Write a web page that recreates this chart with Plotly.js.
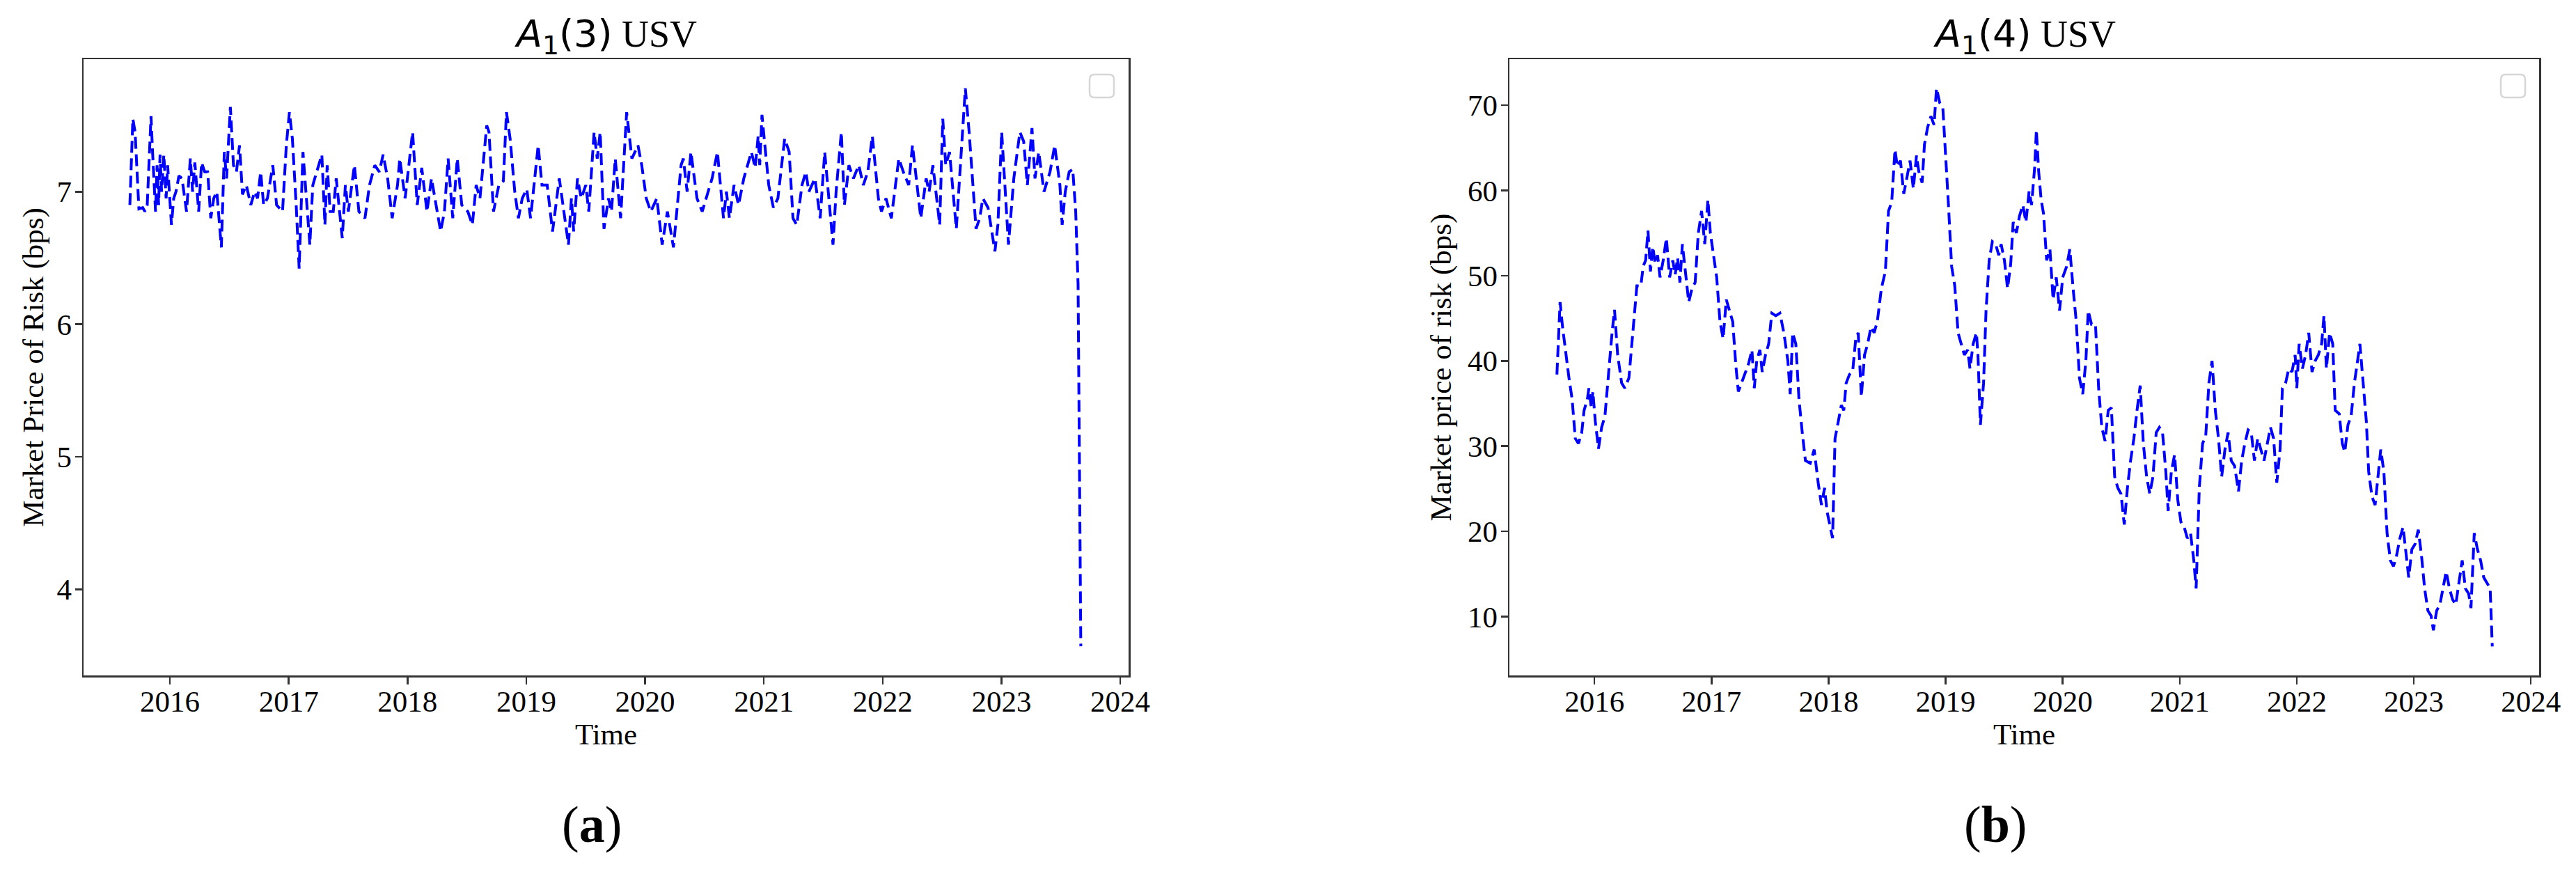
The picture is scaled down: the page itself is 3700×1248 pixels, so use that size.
<!DOCTYPE html>
<html><head><meta charset="utf-8">
<script src="https://cdn.plot.ly/plotly-3.0.1.min.js"></script>
<style>html,body{margin:0;padding:0;background:#fff}#chart{width:3700px;height:1248px}</style>
</head><body><div id="chart"></div>
<script>
// ---- data (decimal years, bps) ----
const yearTicks = [2016, 2017, 2018, 2019, 2020, 2021, 2022, 2023, 2024];
const yearLabels = ['2016', '2017', '2018', '2019', '2020', '2021', '2022', '2023', '2024'];
const usv3Ticks = [4, 5, 6, 7];
const usv4Ticks = [10, 20, 30, 40, 50, 60, 70];

const usv3Time = [2015.663,2015.688,2015.707,2015.739,2015.771,2015.790,2015.809,2015.841,2015.854,2015.879,2015.892,2015.905,2015.917,2015.930,2015.949,2015.968,2015.981,2016.013,2016.032,2016.051,2016.076,2016.102,2016.140,2016.172,2016.191,2016.210,2016.242,2016.267,2016.293,2016.318,2016.344,2016.369,2016.395,2016.433,2016.458,2016.477,2016.509,2016.535,2016.560,2016.586,2016.611,2016.643,2016.681,2016.713,2016.738,2016.764,2016.789,2016.821,2016.866,2016.898,2016.948,2016.980,2017.006,2017.031,2017.063,2017.088,2017.120,2017.146,2017.178,2017.203,2017.235,2017.279,2017.305,2017.324,2017.349,2017.375,2017.400,2017.451,2017.477,2017.502,2017.553,2017.591,2017.642,2017.680,2017.725,2017.763,2017.795,2017.833,2017.871,2017.916,2017.935,2017.980,2018.043,2018.082,2018.120,2018.164,2018.202,2018.279,2018.311,2018.342,2018.381,2018.419,2018.457,2018.508,2018.546,2018.578,2018.610,2018.667,2018.686,2018.724,2018.769,2018.807,2018.833,2018.864,2018.903,2018.934,2018.966,2019.004,2019.036,2019.068,2019.100,2019.132,2019.176,2019.221,2019.278,2019.355,2019.380,2019.399,2019.431,2019.463,2019.501,2019.526,2019.571,2019.597,2019.622,2019.654,2019.692,2019.717,2019.749,2019.794,2019.845,2019.889,2019.940,2019.972,2020.010,2020.048,2020.099,2020.144,2020.188,2020.239,2020.303,2020.322,2020.354,2020.386,2020.437,2020.481,2020.513,2020.564,2020.609,2020.660,2020.685,2020.710,2020.749,2020.787,2020.831,2020.895,2020.927,2020.952,2020.965,2020.984,2021.003,2021.041,2021.080,2021.118,2021.175,2021.213,2021.245,2021.277,2021.321,2021.353,2021.379,2021.430,2021.474,2021.512,2021.582,2021.608,2021.652,2021.678,2021.716,2021.754,2021.799,2021.837,2021.875,2021.913,2021.964,2021.990,2022.028,2022.073,2022.136,2022.174,2022.219,2022.251,2022.283,2022.321,2022.366,2022.391,2022.423,2022.480,2022.506,2022.531,2022.563,2022.620,2022.658,2022.696,2022.728,2022.786,2022.817,2022.843,2022.887,2022.945,2022.970,2023.002,2023.059,2023.104,2023.155,2023.187,2023.218,2023.257,2023.282,2023.314,2023.358,2023.409,2023.448,2023.492,2023.511,2023.537,2023.570,2023.600,2023.625,2023.645,2023.668];
const usv3Value = [6.90,7.55,7.45,6.87,6.88,6.85,6.90,7.57,7.30,6.85,7.20,6.90,7.28,7.00,7.28,6.95,7.20,6.75,6.95,7.00,7.12,7.10,6.85,7.25,7.00,7.22,6.85,7.22,7.15,7.15,6.80,6.95,7.00,6.58,7.30,7.10,7.64,7.20,7.15,7.35,6.98,7.05,6.90,7.00,6.95,7.15,6.90,6.95,7.20,6.90,6.85,7.35,7.60,7.40,6.90,6.42,7.30,7.00,6.60,7.05,7.15,7.28,6.75,7.20,6.85,6.85,7.10,6.65,7.05,6.85,7.20,6.85,6.80,7.05,7.20,7.15,7.28,7.10,6.80,7.05,7.25,6.95,7.45,6.90,7.18,6.85,7.10,6.70,6.85,7.25,6.80,7.25,6.90,6.85,6.75,7.05,6.95,7.50,7.45,6.85,7.05,7.08,7.60,7.40,7.00,6.80,6.95,7.02,6.80,7.10,7.35,7.05,7.05,6.70,7.10,6.60,6.95,6.70,7.10,6.95,7.05,6.85,7.45,7.25,7.45,6.72,6.95,6.85,7.25,6.80,7.60,7.25,7.35,7.20,6.95,6.85,6.95,6.60,6.85,6.58,7.20,7.25,7.00,7.30,6.95,6.85,6.95,7.10,7.30,6.80,7.00,6.80,7.05,6.90,7.10,7.30,7.18,7.42,7.20,7.58,7.40,7.05,6.88,6.95,7.40,7.30,6.80,6.75,7.05,7.15,7.00,7.10,6.80,7.30,6.60,7.00,7.45,6.90,7.20,7.10,7.20,7.05,7.15,7.42,6.95,6.85,6.95,6.80,7.25,7.15,7.05,7.35,7.10,6.80,7.10,7.00,7.20,6.75,7.55,7.20,7.30,6.72,7.25,7.78,7.45,6.72,6.80,6.95,6.88,6.55,6.75,7.45,6.60,7.10,7.45,7.38,7.05,7.48,7.10,7.30,7.00,7.15,7.35,7.05,6.75,7.00,7.15,7.17,6.85,6.30,3.57];

const usv4Time = [2015.679,2015.706,2015.727,2015.747,2015.782,2015.809,2015.836,2015.863,2015.891,2015.911,2015.939,2015.952,2015.973,2015.986,2016.007,2016.034,2016.061,2016.089,2016.116,2016.150,2016.171,2016.198,2016.232,2016.259,2016.294,2016.328,2016.362,2016.396,2016.416,2016.437,2016.457,2016.478,2016.498,2016.519,2016.539,2016.560,2016.587,2016.614,2016.642,2016.669,2016.689,2016.710,2016.730,2016.751,2016.778,2016.805,2016.833,2016.860,2016.887,2016.915,2016.942,2016.969,2016.990,2017.017,2017.044,2017.072,2017.099,2017.126,2017.154,2017.181,2017.208,2017.229,2017.256,2017.290,2017.317,2017.345,2017.365,2017.386,2017.413,2017.433,2017.461,2017.488,2017.515,2017.549,2017.584,2017.618,2017.652,2017.672,2017.693,2017.720,2017.747,2017.775,2017.802,2017.843,2017.877,2017.911,2017.939,2017.966,2017.986,2018.014,2018.034,2018.055,2018.082,2018.109,2018.130,2018.150,2018.178,2018.205,2018.232,2018.253,2018.280,2018.307,2018.334,2018.362,2018.389,2018.416,2018.451,2018.485,2018.512,2018.539,2018.567,2018.587,2018.614,2018.642,2018.669,2018.696,2018.724,2018.751,2018.771,2018.799,2018.819,2018.846,2018.874,2018.901,2018.922,2018.949,2018.976,2019.003,2019.024,2019.051,2019.078,2019.106,2019.133,2019.160,2019.188,2019.208,2019.235,2019.263,2019.276,2019.297,2019.324,2019.345,2019.372,2019.399,2019.427,2019.454,2019.474,2019.502,2019.529,2019.556,2019.577,2019.604,2019.631,2019.659,2019.686,2019.713,2019.734,2019.761,2019.775,2019.795,2019.816,2019.836,2019.863,2019.891,2019.918,2019.945,2019.973,2020.000,2020.034,2020.061,2020.089,2020.116,2020.143,2020.171,2020.198,2020.218,2020.246,2020.280,2020.307,2020.334,2020.362,2020.389,2020.416,2020.444,2020.471,2020.498,2020.526,2020.553,2020.580,2020.608,2020.635,2020.662,2020.689,2020.717,2020.744,2020.771,2020.799,2020.826,2020.853,2020.881,2020.901,2020.928,2020.956,2020.983,2021.010,2021.038,2021.065,2021.092,2021.120,2021.140,2021.167,2021.195,2021.222,2021.249,2021.276,2021.304,2021.331,2021.358,2021.386,2021.413,2021.440,2021.468,2021.502,2021.529,2021.556,2021.584,2021.611,2021.638,2021.666,2021.693,2021.720,2021.748,2021.775,2021.802,2021.829,2021.857,2021.877,2021.904,2021.932,2021.959,2021.986,2022.000,2022.020,2022.048,2022.075,2022.102,2022.130,2022.157,2022.184,2022.212,2022.232,2022.253,2022.280,2022.307,2022.328,2022.362,2022.389,2022.410,2022.437,2022.464,2022.492,2022.519,2022.539,2022.567,2022.594,2022.614,2022.642,2022.669,2022.696,2022.717,2022.744,2022.771,2022.799,2022.826,2022.853,2022.881,2022.908,2022.928,2022.956,2022.983,2023.010,2023.038,2023.065,2023.092,2023.120,2023.147,2023.167,2023.195,2023.222,2023.249,2023.276,2023.304,2023.331,2023.358,2023.386,2023.413,2023.440,2023.468,2023.488,2023.516,2023.543,2023.570,2023.597,2023.625,2023.652,2023.670];
const usv4Value = [38.4,46.9,44.0,41.7,38.0,35.5,30.9,30.3,31.6,34.2,35.5,36.8,34.5,36.4,32.9,29.7,32.2,33.5,38.0,43.3,46.0,40.7,37.4,36.8,38.0,43.3,48.8,48.8,51.1,51.8,55.3,50.5,53.4,51.4,52.4,49.8,51.8,54.4,49.8,51.8,50.1,52.1,49.2,53.7,50.5,46.9,48.5,49.2,55.0,57.6,53.7,58.9,55.0,52.4,49.8,44.6,42.6,47.2,45.9,44.6,39.4,36.4,37.4,38.7,39.7,41.3,36.8,40.0,41.3,38.7,40.7,42.0,45.6,45.3,45.6,43.3,40.0,36.1,43.3,42.0,35.5,31.6,28.3,28.0,29.6,25.7,23.1,25.1,22.4,20.5,19.2,30.9,32.9,34.8,34.2,37.4,38.4,38.7,42.6,43.3,35.8,40.7,42.0,44.0,43.3,44.6,48.5,50.5,57.6,58.6,64.8,62.8,63.5,59.6,61.5,63.5,60.2,64.1,62.2,60.9,65.4,67.4,68.7,67.7,72.0,70.3,69.7,63.5,58.3,51.1,48.8,43.3,42.0,40.7,41.3,39.1,42.0,43.3,40.7,32.5,37.4,45.9,51.8,54.0,53.7,52.4,53.7,51.8,48.5,51.4,56.3,55.0,57.0,58.3,56.3,59.9,58.3,62.8,67.1,62.2,58.9,57.3,51.8,53.1,47.2,49.8,45.9,49.8,51.1,53.1,48.5,44.6,38.0,36.1,40.0,45.9,44.3,44.3,36.8,32.2,30.6,34.2,34.5,26.4,25.1,24.4,20.8,25.1,28.3,30.9,34.2,37.1,30.3,26.4,24.4,26.4,31.6,32.2,31.6,27.0,22.4,27.0,29.0,23.7,21.1,20.5,19.2,19.8,16.6,13.3,25.1,30.3,31.2,37.4,40.0,34.2,30.9,26.4,29.6,31.6,28.3,27.7,24.7,28.3,30.3,31.9,31.6,28.3,30.9,29.6,28.3,30.3,32.2,30.9,25.7,29.6,36.8,37.4,39.1,38.7,40.7,36.8,42.0,39.1,40.7,43.3,38.7,40.0,40.7,42.0,45.3,39.1,43.3,42.0,34.2,33.8,30.3,29.3,32.5,33.5,37.4,40.0,42.0,37.4,32.9,27.0,24.1,23.1,27.0,29.6,27.0,19.8,16.6,15.9,17.2,19.2,20.5,17.9,14.6,17.9,18.5,20.2,17.2,13.3,10.7,10.1,8.4,10.7,11.4,13.3,15.3,13.3,12.0,11.4,14.0,16.6,13.3,12.7,11.0,19.8,17.9,16.6,14.6,14.0,13.3,6.5];

// ---- styling ----
const W = 3700, H = 1248;
const px = v => v / W, py = v => 1 - v / H;
const serif = 'Liberation Serif, Times New Roman, serif';
const lineStyle = {color: '#0000ff', width: 4, dash: '17px,8px'};

const traces = [
  {x: usv3Time, y: usv3Value, type: 'scatter', mode: 'lines', line: lineStyle, xaxis: 'x', yaxis: 'y', showlegend: false, hoverinfo: 'x+y'},
  {x: usv4Time, y: usv4Value, type: 'scatter', mode: 'lines', line: lineStyle, xaxis: 'x2', yaxis: 'y2', showlegend: false, hoverinfo: 'x+y'}
];

const axisCommon = {
  showline: true, mirror: true, linecolor: '#333333', linewidth: 2.5,
  ticks: 'outside', ticklen: 10, tickwidth: 2.5, tickcolor: '#333333',
  showgrid: false, zeroline: false,
  tickfont: {family: serif, size: 43, color: '#000'}
};
const yDom = [py(970), py(85)];
const xAxis = (dom) => Object.assign({}, axisCommon, {
  domain: dom, range: [2015.273, 2024.07], tickmode: 'array',
  tickvals: yearTicks, ticktext: yearLabels, ticklabelstandoff: -12,
  title: {text: 'Time', font: {family: serif, size: 43, color: '#000'}, standoff: 2}
});

function legendBox(x0, y0, x1, y1, r) {
  const X = v => px(v), Y = v => py(v);
  const d = `M ${X(x0 + r)},${Y(y0)} L ${X(x1 - r)},${Y(y0)} Q ${X(x1)},${Y(y0)} ${X(x1)},${Y(y0 + r)} ` +
    `L ${X(x1)},${Y(y1 - r)} Q ${X(x1)},${Y(y1)} ${X(x1 - r)},${Y(y1)} L ${X(x0 + r)},${Y(y1)} ` +
    `Q ${X(x0)},${Y(y1)} ${X(x0)},${Y(y1 - r)} L ${X(x0)},${Y(y0 + r)} Q ${X(x0)},${Y(y0)} ${X(x0 + r)},${Y(y0)} Z`;
  return {type: 'path', xref: 'paper', yref: 'paper', path: d, line: {color: '#d6d6d6', width: 2.5}, fillcolor: 'rgba(255,255,255,0.8)'};
}

const layout = {
  width: W, height: H,
  margin: {l: 0, r: 0, t: 0, b: 0},
  paper_bgcolor: '#fff', plot_bgcolor: '#fff',
  font: {family: serif, color: '#000'},
  showlegend: false,
  xaxis: xAxis([px(120), px(1621)]),
  xaxis2: Object.assign(xAxis([px(2168), px(3647)]), {anchor: 'y2'}),
  yaxis: Object.assign({}, axisCommon, {
    domain: yDom, range: [3.35, 8.0], tickmode: 'array', tickvals: usv3Ticks, ticklabelstandoff: -4,
    title: {text: 'Market Price of Risk (bps)', font: {family: serif, size: 43, color: '#000'}, standoff: 6}
  }),
  yaxis2: Object.assign({}, axisCommon, {
    domain: yDom, range: [3.1, 75.4], anchor: 'x2', tickmode: 'array', tickvals: usv4Ticks, ticklabelstandoff: -4,
    title: {text: 'Market price of risk (bps)', font: {family: serif, size: 43, color: '#000'}, standoff: 10}
  }),
  annotations: [
    {xref: 'paper', yref: 'paper', x: px(870), y: py(52), xanchor: 'center', yanchor: 'middle', showarrow: false,
     text: '<span style="font-family:DejaVu Sans"><i>A</i><sub>1</sub>(3)</span> USV', font: {family: serif, size: 54, color: '#000'}},
    {xref: 'paper', yref: 'paper', x: px(2908), y: py(52), xanchor: 'center', yanchor: 'middle', showarrow: false,
     text: '<span style="font-family:DejaVu Sans"><i>A</i><sub>1</sub>(4)</span> USV', font: {family: serif, size: 54, color: '#000'}},
    {xref: 'paper', yref: 'paper', x: px(850), y: py(1184), xanchor: 'center', yanchor: 'middle', showarrow: false,
     text: '(<b>a</b>)', font: {family: serif, size: 74, color: '#000'}},
    {xref: 'paper', yref: 'paper', x: px(2866), y: py(1184), xanchor: 'center', yanchor: 'middle', showarrow: false,
     text: '(<b>b</b>)', font: {family: serif, size: 74, color: '#000'}}
  ],
  shapes: [legendBox(1565, 107, 1600, 140, 7), legendBox(3592, 107, 3627, 140, 7)]
};

Plotly.newPlot('chart', traces, layout, {staticPlot: true, displayModeBar: false});
</script>
</body></html>
